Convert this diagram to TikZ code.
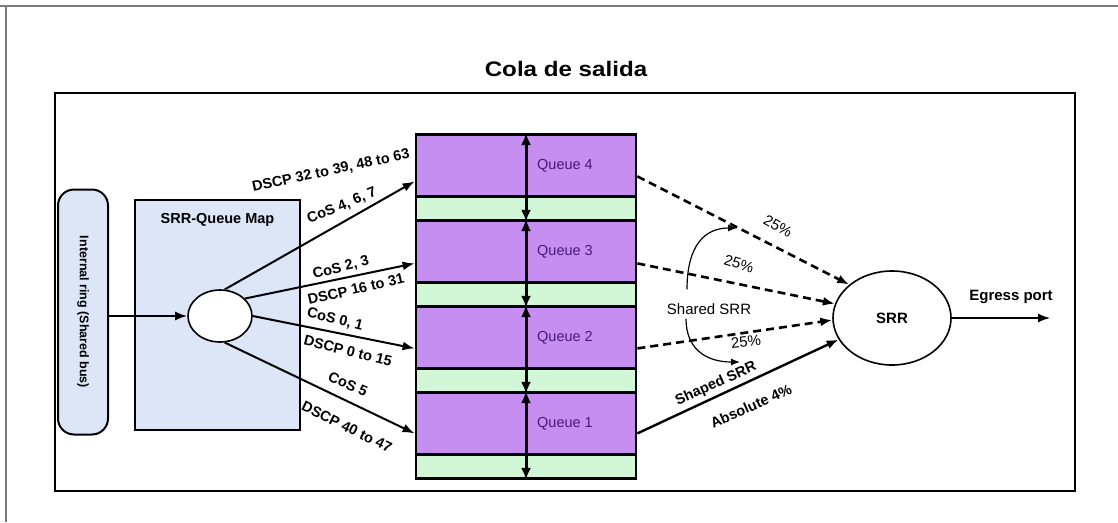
\documentclass[tikz,border=0pt]{standalone}
\usepackage{fontspec}
\setmainfont{Liberation Sans}
\usetikzlibrary{arrows.meta,positioning,shapes.geometric}
\definecolor{Map Blue}{HTML}{DCE6F7}
\definecolor{Queue Purple}{HTML}{C78EF2}
\definecolor{Queue Green}{HTML}{D2F7D6}
\definecolor{Queue Ink}{HTML}{4A1878}
\definecolor{Frame Gray}{HTML}{7A7A7A}

\begin{document}
\begin{tikzpicture}[x=1pt, y=-1pt]
  \useasboundingbox (0,0) rectangle (1118,522);

  \tikzstyle{lbl}=[font=\bfseries\fontsize{14.5}{16}\selectfont, inner sep=0pt]
  \tikzstyle{plain lbl}=[font=\fontsize{15}{17}\selectfont, inner sep=0pt]
  \tikzstyle{queue}=[rectangle, draw=black, line width=2.8pt, fill=Queue Purple,
                     minimum width=220pt, minimum height=62pt, anchor=north, inner sep=0pt]
  \tikzstyle{buffer}=[queue, fill=Queue Green, minimum height=24pt]
  \tikzstyle{flow}=[-{Latex[length=12pt,width=9pt]}, line width=2pt]
  \tikzstyle{share}=[flow, dash pattern=on 8pt off 5pt, line width=2.6pt]
  \tikzstyle{turn}=[-{Latex[length=9pt,width=7pt]}, line width=1.2pt]

  % Page edge and frame
  \draw[Frame Gray, line width=1.5pt] (0,6) -- (1118,6);
  \draw[Frame Gray, line width=1.5pt] (6,6) -- (6,522);
  \draw[line width=2pt] (55,93) rectangle (1075,491);
  \node[font=\bfseries\fontsize{21}{24}\selectfont, xscale=1.15] (title) at (566,69) {Cola de salida};

  % Internal ring and the queue map
  \node[rectangle, rounded corners=16pt, draw, line width=2pt, fill=Map Blue,
        minimum width=50pt, minimum height=245pt] (ring) at (83,312) {};
  \node[lbl, font=\bfseries\fontsize{12.5}{14}\selectfont, rotate=-90] at (ring) {Internal ring (Shared bus)};

  \node[rectangle, draw, line width=2pt, fill=Map Blue,
        minimum width=165pt, minimum height=230pt] (map) at (217.5,315) {};
  \node[lbl, font=\bfseries\fontsize{14.5}{16}\selectfont, below=14pt of map.north] {SRR-Queue Map};

  \node[ellipse, draw, line width=1.6pt, fill=white,
        minimum width=64pt, minimum height=52pt] (sel) at (220,316) {};
  \draw[flow] (ring.east |- sel.west) -- (sel.west);

  % Draw the queues with their buffers
  \foreach \q [count=\i from 0] in {4,3,2,1} {
      \node[queue] (Q\q) at (526,{133+86*\i}) {};
      \node[buffer] (B\q) at (526,{195+86*\i}) {};
      \draw[{Latex[length=12pt,width=10pt]}-{Latex[length=12pt,width=10pt]}, line width=3pt]
          (Q\q.north) -- (B\q.south);
      \node[plain lbl, text=Queue Ink, font=\fontsize{14.5}{16}\selectfont] at ([xshift=39pt]Q\q.center) {Queue \q};
  }

  % Map every class to its queue
  \draw[flow] (sel.80) -- ([yshift=-16pt]Q4.west);
  \draw[flow] (sel.35) -- ([yshift=-12pt]Q3.west);
  \draw[flow] (sel.east) -- ([yshift=-11pt]Q2.west);
  \draw[flow] (sel.-80) -- ([yshift=-10pt]Q1.west);

  \node[lbl, rotate=12] at (331,171) {DSCP 32 to 39, 48 to 63};
  \node[lbl, rotate=22] at (342,206) {CoS 4, 6, 7};
  \node[lbl, rotate=14] at (341,268) {CoS 2, 3};
  \node[lbl, rotate=13] at (356,289) {DSCP 16 to 31};
  \node[lbl, rotate=-14] at (335,320) {CoS 0, 1};
  \node[lbl, rotate=-14] at (348,351) {DSCP 0 to 15};
  \node[lbl, rotate=-24] at (348,384) {CoS 5};
  \node[lbl, rotate=-26] at (347,427) {DSCP 40 to 47};

  % Scheduler and egress port
  \node[ellipse, draw, line width=1.6pt, fill=white, font=\bfseries\fontsize{15}{17}\selectfont,
        minimum width=118pt, minimum height=94pt] (srr) at (892,318) {SRR};
  \coordinate (egress) at (1050,318);
  \draw[flow, line width=1.4pt] (srr.east) -- (egress);
  \node[lbl, font=\bfseries\fontsize{15}{17}\selectfont] at (1011,297) {Egress port};

  \draw[share] ([yshift=-11pt]Q4.east) -- (srr.142);
  \draw[share] ([yshift=-12pt]Q3.east) -- (srr.166);
  \draw[share] ([yshift=-11pt]Q2.east) -- (srr.182);
  \draw[flow, line width=2.4pt] ([yshift=-10pt]Q1.east) -- (srr.202);

  \node[plain lbl, rotate=-29] at (778,226) {25\%};
  \node[plain lbl, rotate=-17] at (739,264) {25\%};
  \node[plain lbl, rotate=6] at (746,342) {25\%};
  \node[lbl, rotate=24] at (716,384) {Shaped SRR};
  \node[lbl, rotate=24] at (751,406) {Absolute 4\%};

  % Shared SRR turns
  \node[plain lbl] (shared) at (709,309) {Shared SRR};
  \coordinate (turn top) at (737,228);
  \coordinate (turn bottom) at (740,362);
  \draw[turn] ([yshift=14pt]shared.north -| 687,0) .. controls (687,245) and (705,228) .. (turn top);
  \draw[turn] ([yshift=-4pt]shared.south -| 686,0) .. controls (686,348) and (705,362) .. (turn bottom);

\end{tikzpicture}
\end{document}
